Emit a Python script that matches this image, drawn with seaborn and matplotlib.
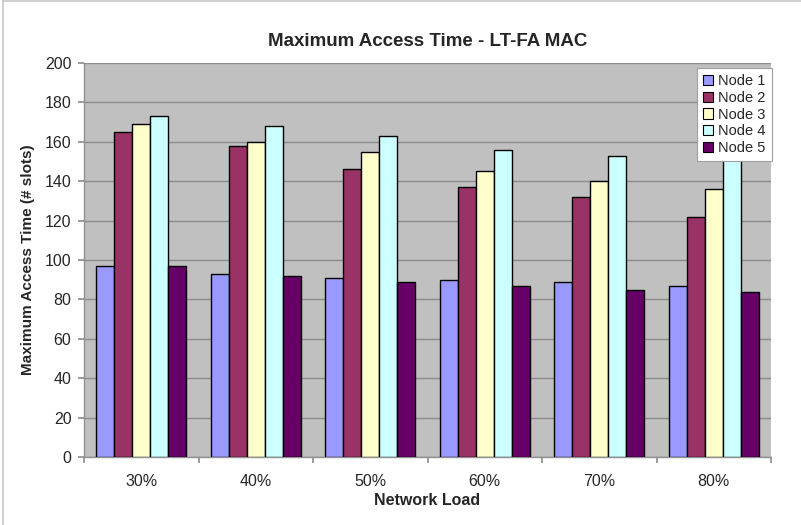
import matplotlib
matplotlib.use("Agg")
import matplotlib.pyplot as plt
from matplotlib.lines import Line2D
import seaborn as sns
import pandas as pd

loads = ["30%", "40%", "50%", "60%", "70%", "80%"]
nodes = ["Node 1", "Node 2", "Node 3", "Node 4", "Node 5"]
node1 = [97, 93, 91, 90, 89, 87]
node2 = [165, 158, 146, 137, 132, 122]
node3 = [169, 160, 155, 145, 140, 136]
node4 = [173, 168, 163, 156, 153, 152]
node5 = [97, 92, 89, 87, 85, 84]
palette = ["#9999FF", "#993366", "#FFFFCC", "#CCFFFF", "#660066"]

series = [node1, node2, node3, node4, node5]
rows = []
for name, vals in zip(nodes, series):
    for load, v in zip(loads, vals):
        rows.append({"Network Load": load, "Node": name, "Time": v})
df = pd.DataFrame(rows)

sns.set_theme(style="white")
plt.rcParams["font.family"] = ["Liberation Sans", "DejaVu Sans"]

fig = plt.figure(figsize=(8.01, 5.25), dpi=100)
W, H = 801, 525
ax = fig.add_axes([84 / W, 1 - 457 / H, (771 - 84) / W, (457 - 63) / H])
ax.set_facecolor("#C0C0C0")

sns.barplot(data=df, x="Network Load", y="Time", hue="Node", order=loads,
            hue_order=nodes, palette=palette, width=0.79, saturation=1,
            edgecolor="black", linewidth=1.0, ax=ax, zorder=3)

ax.set_ylim(0, 200)
ax.set_xlim(-0.5, len(loads) - 0.5)
ax.set_yticks(range(0, 201, 20))
ax.yaxis.grid(True, color="#8C8C8C", linewidth=1.0, zorder=0)
ax.set_axisbelow(True)

# category boundaries carry the tick marks, centres carry the labels
ax.set_xticks([i - 0.5 for i in range(len(loads) + 1)])
ax.set_xticklabels([])
ax.set_xticks(range(len(loads)), minor=True)
ax.set_xticklabels(loads, minor=True, fontsize=11.5)
ax.tick_params(axis="x", which="major", length=4, color="#909090", direction="out", bottom=True)
ax.tick_params(axis="x", which="minor", length=0, pad=12)
ax.tick_params(axis="y", length=4, color="#909090", direction="out", left=True, pad=5, labelsize=11.5)

for s in ["top", "right"]:
    ax.spines[s].set_visible(False)
for s in ["left", "bottom"]:
    ax.spines[s].set_color("#909090")
    ax.spines[s].set_linewidth(1.0)

ax.set_xlabel("Network Load", fontsize=11.5, fontweight="bold", labelpad=3)
ax.set_ylabel("Maximum Access Time (# slots)", fontsize=11, fontweight="bold", labelpad=7)
ax.set_title("Maximum Access Time - LT-FA MAC", fontsize=13.5, fontweight="bold", pad=12)

handles = [plt.Rectangle((0, 0), 1, 1, facecolor=c, edgecolor="black", linewidth=0.8)
           for c in palette]
leg = ax.legend(handles, nodes, loc="upper right", bbox_to_anchor=(1.002, 0.988),
                fontsize=10.5, frameon=True, fancybox=False, framealpha=1,
                edgecolor="#A0A0A0", handlelength=0.7, handleheight=0.7,
                handletextpad=0.35, labelspacing=0.18, borderpad=0.45,
                borderaxespad=0.0)
leg.get_frame().set_linewidth(0.8)

# thin frame around the chart area
fig.add_artist(Line2D([3 / W, 3 / W], [0, 1], color="#C8C8C8", linewidth=1.2))
fig.add_artist(Line2D([3 / W, 1], [1 - 0.5 / H, 1 - 0.5 / H], color="#C8C8C8", linewidth=1.2))

fig.savefig("out.png", dpi=100, facecolor="white")
